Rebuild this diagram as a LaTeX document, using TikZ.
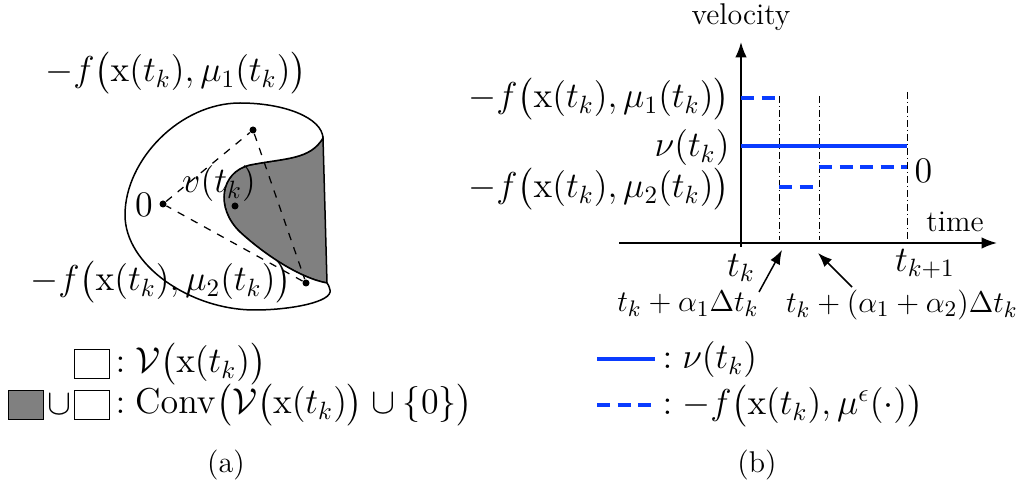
\documentclass[tikz,border=0pt]{standalone}
\usepackage{amssymb, amsmath}
\usetikzlibrary{arrows.meta, positioning, calc}
\definecolor{velblue}{RGB}{10,60,255}

\begin{document}
\begin{tikzpicture}[
    x=0.4pt, y=-0.4pt,
    >=Latex,
    font=\fontsize{14}{16}\selectfont,
    axis/.style={
        ->,
        line width=0.7pt,
        draw=black
    },
    guide/.style={
        line width=0.4pt,
        dash pattern=on 2.8pt off 1.2pt on 0.4pt off 1.2pt
    },
    velline/.style={
        line width=1.3pt,
        draw=velblue
    },
    ctrlline/.style={
        line width=1.3pt,
        draw=velblue,
        dash pattern=on 5.2pt off 3pt
    },
    hull/.style={
        dashed,
        line width=0.5pt
    },
    vertex/.style={
        circle,
        fill=black,
        inner sep=0pt,
        minimum size=2.8pt
    },
    keybox/.style={
        draw=black,
        line width=0.6pt,
        minimum width=14pt,
        minimum height=11.5pt,
        inner sep=0pt
    },
    keytext/.style={
        anchor=west,
        inner sep=0pt
    },
    ticklabel/.style={
        inner sep=0pt
    },
    steplabel/.style={
        inner sep=0pt,
        font=\fontsize{12.5}{14}\selectfont
    },
    txt/.style={
        font=\fontsize{12}{14}\selectfont
    },
    pointer/.style={
        ->,
        line width=0.6pt
    }
]
\useasboundingbox (0,0) rectangle (1027,492);

% (a) reachable set and its convex hull
\fill[gray, draw=black, line width=0.6pt] (327,283)
    .. controls (300,278) and (265,255) .. (240,232)
    .. controls (215,208) and (220,172) .. (250,165)
    .. controls (285,158) and (310,160) .. (323,138) -- cycle;
\filldraw[fill=white, draw=black, line width=0.6pt] (323,138)
    .. controls (322,118) and (285,103) .. (240,103)
    .. controls (180,103) and (125,160) .. (125,215)
    .. controls (125,265) and (190,310) .. (255,310)
    .. controls (290,310) and (333,302) .. (330,290)
    .. controls (329,286) and (328,284) .. (327,283)
    .. controls (300,278) and (265,255) .. (240,232)
    .. controls (215,208) and (220,172) .. (250,165)
    .. controls (285,158) and (310,160) .. (323,138) -- cycle;

\node[vertex] (v0) at (163,204) {};
\node[vertex] (v1) at (253,130) {};
\node[vertex] (v2) at (306,283) {};
\node[vertex] (vin) at (235,206) {};

\draw[hull] (v0) -- (v1) -- (v2) -- (v0);

\node (lab0) at (144,205) {$0$};
\node (labv) at (219,184) {$v(t_k)$};
\node (labf1) at (176,73) {$-f\bigl(\mathrm{x}(t_k),\mu_1(t_k)\bigr)$};
\node (labf2) at (161,282) {$-f\bigl(\mathrm{x}(t_k),\mu_2(t_k)\bigr)$};

% legend (a)
\node[keybox, fill=white] (keyset) at (92,364) {};
\node[keybox, fill=gray]  (keygray) at (26,405) {};
\node[inner sep=1pt] (keycup) at (59,405) {$\cup$};
\node[keybox, fill=white] (keywhite) at (92,405) {};
\node[keytext] (keysettxt) at (115,364) {$:\mathcal{V}\bigl(\mathrm{x}(t_k)\bigr)$};
\node[keytext] (keyhulltxt) at (115,405)
    {$:\mathrm{Conv}\bigl(\mathcal{V}\bigl(\mathrm{x}(t_k)\bigr)\cup\{0\}\bigr)$};

\node[txt] (capa) at (226,465) {(a)};

% (b) velocity over one step
\coordinate (ybot) at (741,247);
\coordinate (ytop) at (741,42);
\coordinate (xleft) at (619,243);
\coordinate (xright) at (997,243);

\draw[axis] (ybot) -- (ytop);
\draw[axis] (xleft) -- (xright);

\node[txt] (ylab) at (741,17) {velocity};
\node[txt] (xlab) at (955,222) {time};

\foreach \gx/\gy [count=\i] in {779/96, 819/96, 907/92} {
    \coordinate (gt\i) at (\gx,\gy);
    \coordinate (gb\i) at (\gx,240);
    \draw[guide] (gt\i) -- (gb\i);
}

\coordinate (mu1a) at (741,98);
\coordinate (mu1b) at (779,98);
\coordinate (mu2a) at (779,187);
\coordinate (mu2b) at (819,187);
\coordinate (zeroa) at (819,167);
\coordinate (zerob) at (907,167);
\coordinate (nua) at (741,146);
\coordinate (nub) at (907,146);

\draw[ctrlline] (mu1a) -- (mu1b);
\draw[ctrlline] (mu2a) -- (mu2b);
\draw[ctrlline] (zeroa) -- (zerob);
\draw[velline] (nua) -- (nub);

\node[ticklabel, anchor=east] (labmu1) at (730,99) {$-f\bigl(\mathrm{x}(t_k),\mu_1(t_k)\bigr)$};
\node[ticklabel, anchor=east] (labnu) at (730,148) {$\nu(t_k)$};
\node[ticklabel, anchor=east] (labmu2) at (730,189) {$-f\bigl(\mathrm{x}(t_k),\mu_2(t_k)\bigr)$};
\node[ticklabel, anchor=west] (labzero) at (914,171) {$0$};

\node[ticklabel] (labtk) at (741,268) {$t_k$};
\node[ticklabel] (labtk1) at (925,264) {$t_{k+1}$};

\node[steplabel] (labs1) at (688,304) {$t_k+\alpha_1\Delta t_k$};
\node[steplabel] (labs2) at (902,305) {$t_k+(\alpha_1+\alpha_2)\Delta t_k$};

\coordinate (s1from) at (759,292);
\coordinate (s1to) at (782,250);
\coordinate (s2from) at (852,287);
\coordinate (s2to) at (818,253);
\draw[pointer] (s1from) -- (s1to);
\draw[pointer] (s2from) -- (s2to);

% legend (b)
\coordinate (keyva) at (597,359);
\coordinate (keyvb) at (655,359);
\coordinate (keyfa) at (597,405);
\coordinate (keyfb) at (655,405);
\draw[velline] (keyva) -- (keyvb);
\draw[ctrlline] (keyfa) -- (keyfb);
\node[keytext] (keyvtxt) at (662,360) {$:\nu(t_k)$};
\node[keytext] (keyftxt) at (662,406)
    {$:-f\bigl(\mathrm{x}(t_k),\mu^{\epsilon}(\cdot)\bigr)$};

\node[txt] (capb) at (757,465) {(b)};

\end{tikzpicture}
\end{document}
